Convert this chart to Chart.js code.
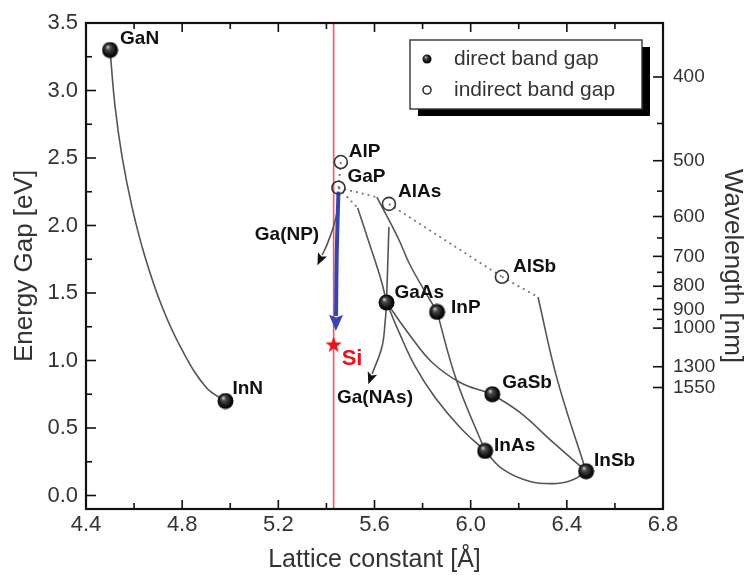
<!DOCTYPE html>
<html>
<head>
<meta charset="utf-8">
<script src="https://cdn.jsdelivr.net/npm/chart.js@4.4.0/dist/chart.umd.min.js"></script>
<style>
  html, body { margin: 0; padding: 0; background: #fff; }
</style>
</head>
<body>
<canvas id="chart" width="751" height="575"></canvas>
<script>
// Semicondutores: constante de rede [Å] x gap [eV]
const directNames = ['GaN', 'InN', 'GaAs', 'InP', 'GaSb', 'InAs', 'InSb'];
const directX = [4.50, 4.98, 5.65, 5.86, 6.09, 6.06, 6.48];
const directY = [3.30, 0.70, 1.43, 1.36, 0.75, 0.33, 0.18];

const indirectNames = ['AlP', 'GaP', 'AlAs', 'AlSb'];
const indirectX = [5.46, 5.45, 5.66, 6.13];
const indirectY = [2.47, 2.28, 2.16, 1.62];

const siName = 'Si';
const siX = [5.43];
const siY = [1.12];

// Curvas das ligas
const curveGaNInN = [[4.50, 3.30], [4.521, 2.88], [4.55, 2.51], [4.591, 2.14], [4.645, 1.77], [4.716, 1.40], [4.799, 1.08], [4.90, 0.80], [4.98, 0.70]];
const curveGaPGaAs = [[5.53, 2.13], [5.58, 1.86], [5.63, 1.58], [5.65, 1.43]];
const curveGaPInP = [[5.61, 2.21], [5.70, 1.90], [5.75, 1.70], [5.86, 1.36]];
const curveAlAsGaAs = [[5.66, 1.99], [5.65, 1.43]];
const curveAlSbInSb = [[6.28, 1.47], [6.36, 0.86], [6.48, 0.18]];
const curveGaAsGaSb = [[5.65, 1.43], [5.75, 1.18], [5.84, 0.985], [5.956, 0.837], [6.07, 0.763], [6.09, 0.75]];
const curveGaAsInAs = [[5.65, 1.43], [5.706, 1.193], [5.769, 0.956], [5.852, 0.726], [5.956, 0.504], [6.06, 0.33]];
const curveInPInAs = [[5.86, 1.36], [5.94, 0.86], [6.06, 0.33]];
const curveGaSbInSb = [[6.09, 0.75], [6.205, 0.615], [6.343, 0.393], [6.48, 0.18]];
const curveInAsInSb = [[6.06, 0.33], [6.135, 0.193], [6.247, 0.104], [6.359, 0.089], [6.43, 0.12], [6.48, 0.18]];
const arrowGaNP = [[5.448, 2.25], [5.444, 2.10], [5.428, 1.985], [5.403, 1.86], [5.382, 1.78]];
const arrowGaNAs = [[5.65, 1.43], [5.644, 1.28], [5.631, 1.10], [5.59, 0.90]];

// Trechos indiretos (pontilhados)
const dotAlPGaP = [[5.46, 2.47], [5.45, 2.28]];
const dotGaPGaAs = [[5.45, 2.28], [5.53, 2.13]];
const dotGaPInP = [[5.45, 2.28], [5.61, 2.21]];
const dotAlAsAlSb = [[5.66, 2.16], [6.13, 1.62]];
const dotAlSbInSb = [[6.13, 1.62], [6.28, 1.47]];

// Linha do Si e seta azul GaP -> Si
const siLine = [[5.43, -0.1], [5.43, 3.5]];
const blueArrow = [[5.45, 2.25], [5.443, 1.80], [5.44, 1.33]];

const freeLabels = ['Ga(NP)', 'Ga(NAs)'];
const freeLabelX = [5.236, 5.602];
const freeLabelY = [1.933, 0.726];

const legendLabels = ['direct band gap', 'indirect band gap'];

// Eixos
const xTicks = [4.4, 4.8, 5.2, 5.6, 6.0, 6.4, 6.8];
const xMinor = [4.6, 5.0, 5.4, 5.8, 6.2, 6.6];
const yTicks = [0, 0.5, 1.0, 1.5, 2.0, 2.5, 3.0, 3.5];
const yMinor = [0.25, 0.75, 1.25, 1.75, 2.25, 2.75, 3.25];
const wlTicks = [400, 500, 600, 700, 800, 900, 1000, 1300, 1550];
const wlMinor = [450, 550, 650, 750, 850, 950];
const HC = 1240; // eV*nm

// deslocamento dos rótulos em px (estilo)
const directLabelOffsets = [[10, -11], [7, -12], [8, -10], [14, -4], [10, -11], [9, -5], [8, -10]];
const indirectLabelOffsets = [[8, -10], [9, -11], [9, -12], [11, -10]];

const FONT = "'Liberation Sans', Arial, Helvetica, sans-serif";

function pts(arr) { return arr.map(p => ({ x: p[0], y: p[1] })); }

// Esfera preta (gap direto)
function makeSphere(d) {
    const c = document.createElement('canvas');
    c.width = d; c.height = d;
    const g = c.getContext('2d');
    const r = d / 2;
    const grad = g.createRadialGradient(r * 0.72, r * 0.62, r * 0.05, r, r, r);
    grad.addColorStop(0, '#c8c8c8');
    grad.addColorStop(0.25, '#4a4a4a');
    grad.addColorStop(0.7, '#111');
    grad.addColorStop(1, '#000');
    g.fillStyle = grad;
    g.beginPath();
    g.arc(r, r, r - 0.5, 0, Math.PI * 2);
    g.fill();
    return c;
}

// Estrela vermelha do Si
function makeStar(d, color) {
    const c = document.createElement('canvas');
    c.width = d; c.height = d;
    const g = c.getContext('2d');
    const r = d / 2, ri = r * 0.42;
    g.fillStyle = color;
    g.beginPath();
    for (let i = 0; i < 10; i++) {
        const a = -Math.PI / 2 + i * Math.PI / 5;
        const rr = i % 2 === 0 ? r : ri;
        g.lineTo(r + rr * Math.cos(a), r + rr * Math.sin(a) + 0.8);
    }
    g.closePath();
    g.fill();
    return c;
}

const sphere = makeSphere(17);
const sphereSmall = makeSphere(10);
const star = makeStar(17, '#e8141c');

function solid(data, extra) {
    return Object.assign({
        data: pts(data), showLine: true, borderColor: '#555', borderWidth: 1.6,
        tension: 0.4, pointRadius: 0, order: 2
    }, extra || {});
}
function dotted(data) {
    return {
        data: pts(data), showLine: true, borderColor: '#777', borderWidth: 1.8,
        borderDash: [2, 4], tension: 0, pointRadius: 0, order: 2
    };
}

const datasets = [
    {
        label: 'direct', data: directX.map((x, i) => ({ x, y: directY[i] })),
        pointStyle: sphere, pointRadius: 8, showLine: false, order: 0
    },
    {
        label: 'indirect', data: indirectX.map((x, i) => ({ x, y: indirectY[i] })),
        pointStyle: 'circle', pointRadius: 6.5, pointBorderWidth: 1.6,
        pointBorderColor: '#333', pointBackgroundColor: 'rgba(255,255,255,0)', showLine: false, order: 0
    },
    {
        label: 'Si', data: siX.map((x, i) => ({ x, y: siY[i] })),
        pointStyle: star, pointRadius: 8, showLine: false, order: 0
    },
    solid(curveGaNInN),
    solid(curveGaPGaAs),
    solid(curveGaPInP),
    solid(curveAlAsGaAs, { tension: 0 }),
    solid(curveAlSbInSb),
    solid(curveGaAsGaSb),
    solid(curveGaAsInAs),
    solid(curveInPInAs),
    solid(curveGaSbInSb),
    solid(curveInAsInSb),
    solid(arrowGaNP, { arrow: { len: 11, half: 5, color: '#111' } }),
    solid(arrowGaNAs, { arrow: { len: 11, half: 5, color: '#111' } }),
    dotted(dotAlPGaP),
    dotted(dotGaPGaAs),
    dotted(dotGaPInP),
    dotted(dotAlAsAlSb),
    dotted(dotAlSbInSb),
    solid(blueArrow, { borderColor: '#3a44b0', borderWidth: 4, tension: 0.3, order: 1,
        arrow: { len: 15, half: 7, color: '#3a44b0' } }),
    solid(siLine, { borderColor: '#f0585c', borderWidth: 1.6, tension: 0, order: 5 })
];

// Pontas de seta no fim das curvas marcadas
const arrowHeads = {
    id: 'arrowHeads',
    afterDatasetsDraw(chart) {
        const ctx = chart.ctx;
        chart.data.datasets.forEach((ds, i) => {
            if (!ds.arrow) return;
            const meta = chart.getDatasetMeta(i);
            const n = meta.data.length;
            const p = meta.data[n - 1], q = meta.data[n - 2];
            let bx = q.x, by = q.y;
            if (p.cp1x !== undefined && Math.hypot(p.x - p.cp1x, p.y - p.cp1y) > 1) { bx = p.cp1x; by = p.cp1y; }
            const a = Math.atan2(p.y - by, p.x - bx);
            const { len, half, color } = ds.arrow;
            ctx.save();
            ctx.translate(p.x, p.y);
            ctx.rotate(a);
            ctx.fillStyle = color;
            ctx.beginPath();
            ctx.moveTo(len, 0);
            ctx.lineTo(-1, -half);
            ctx.lineTo(1.5, 0);
            ctx.lineTo(-1, half);
            ctx.closePath();
            ctx.fill();
            ctx.restore();
        });
    }
};

// Rótulos dos materiais
const pointLabels = {
    id: 'pointLabels',
    afterDatasetsDraw(chart) {
        const { ctx, scales: { x, y } } = chart;
        ctx.save();
        ctx.font = 'bold 19px ' + FONT;
        ctx.fillStyle = '#111';
        ctx.textBaseline = 'middle';
        ctx.textAlign = 'left';
        directNames.forEach((name, i) => {
            const o = directLabelOffsets[i];
            ctx.fillText(name, x.getPixelForValue(directX[i]) + o[0], y.getPixelForValue(directY[i]) + o[1]);
        });
        indirectNames.forEach((name, i) => {
            const o = indirectLabelOffsets[i];
            ctx.fillText(name, x.getPixelForValue(indirectX[i]) + o[0], y.getPixelForValue(indirectY[i]) + o[1]);
        });
        ctx.textAlign = 'center';
        freeLabels.forEach((name, i) => {
            ctx.fillText(name, x.getPixelForValue(freeLabelX[i]), y.getPixelForValue(freeLabelY[i]));
        });
        ctx.textAlign = 'left';
        ctx.font = 'bold 22px ' + FONT;
        ctx.fillStyle = '#e8141c';
        ctx.fillText(siName, x.getPixelForValue(siX[0]) + 8, y.getPixelForValue(siY[0]) + 15);
        ctx.restore();
    }
};

// Moldura, ticks internos e legenda com sombra
const frameAndLegend = {
    id: 'frameAndLegend',
    afterDraw(chart) {
        const { ctx, chartArea: a, scales } = chart;
        ctx.save();
        ctx.strokeStyle = '#111';
        ctx.lineWidth = 1.6;
        const seg = (x1, y1, x2, y2) => { ctx.beginPath(); ctx.moveTo(x1, y1); ctx.lineTo(x2, y2); ctx.stroke(); };
        const xt = (v, l) => { const px = scales.x.getPixelForValue(v); seg(px, a.bottom, px, a.bottom - l); seg(px, a.top, px, a.top + l); };
        xTicks.forEach(v => xt(v, 9));
        xMinor.forEach(v => xt(v, 6));
        yTicks.forEach(v => { const py = scales.y.getPixelForValue(v); seg(a.left, py, a.left + 10, py); });
        yMinor.forEach(v => { const py = scales.y.getPixelForValue(v); seg(a.left, py, a.left + 6, py); });
        wlTicks.forEach(w => { const py = scales.y2.getPixelForValue(HC / w); seg(a.right, py, a.right - 10, py); });
        wlMinor.forEach(w => { const py = scales.y2.getPixelForValue(HC / w); seg(a.right, py, a.right - 6, py); });
        ctx.lineWidth = 2.2;
        ctx.strokeRect(a.left, a.top, a.right - a.left, a.bottom - a.top);

        // legenda
        const bx = a.right - 253, by = a.top + 17, bw = 232, bh = 69;
        ctx.fillStyle = '#000';
        ctx.fillRect(bx + 8, by + 7, bw, bh);
        ctx.fillStyle = '#fff';
        ctx.fillRect(bx, by, bw, bh);
        ctx.lineWidth = 1.4;
        ctx.strokeStyle = '#333';
        ctx.strokeRect(bx, by, bw, bh);
        ctx.drawImage(sphereSmall, bx + 17 - 5, by + 19 - 5);
        ctx.beginPath();
        ctx.lineWidth = 1.6;
        ctx.arc(bx + 17, by + 50, 4, 0, Math.PI * 2);
        ctx.stroke();
        ctx.font = '21px ' + FONT;
        ctx.fillStyle = '#333';
        ctx.textBaseline = 'middle';
        ctx.textAlign = 'left';
        ctx.fillText(legendLabels[0], bx + 44, by + 19);
        ctx.fillText(legendLabels[1], bx + 44, by + 50);
        ctx.restore();
    }
};

const setTicks = values => scale => { scale.ticks = values.map(v => ({ value: v })); };

new Chart(document.getElementById('chart'), {
    type: 'scatter',
    data: { datasets },
    options: {
        responsive: false,
        animation: false,
        devicePixelRatio: 1,
        layout: { padding: { top: 23, left: 0, right: 0, bottom: 0 } },
        plugins: { legend: { display: false }, tooltip: { enabled: false } },
        scales: {
            x: {
                type: 'linear', position: 'bottom', min: 4.4, max: 6.8,
                afterBuildTicks: setTicks(xTicks),
                afterFit: s => { s.height = 66; },
                grid: { display: false, drawTicks: false },
                border: { display: false },
                ticks: { color: '#333', padding: 3, font: { family: FONT, size: 22 }, callback: v => v.toFixed(1) },
                title: { display: true, text: 'Lattice constant [Å]', color: '#333', font: { family: FONT, size: 25 }, padding: { top: 0, bottom: 0 } }
            },
            y: {
                type: 'linear', position: 'left', min: -0.1, max: 3.5,
                afterBuildTicks: setTicks(yTicks),
                afterFit: s => { s.width = 86; },
                grid: { display: false, drawTicks: false },
                border: { display: false },
                ticks: { color: '#333', padding: 8, font: { family: FONT, size: 22 }, callback: v => v.toFixed(1) },
                title: { display: true, text: 'Energy Gap [eV]', color: '#333', font: { family: FONT, size: 26 }, padding: { top: 9, bottom: 0 } }
            },
            y2: {
                type: 'linear', position: 'right', min: -0.1, max: 3.5,
                afterBuildTicks: setTicks(wlTicks.map(w => HC / w)),
                afterFit: s => { s.width = 88; },
                grid: { display: false, drawTicks: false },
                border: { display: false },
                ticks: { color: '#333', padding: 10, autoSkip: false, font: { family: FONT, size: 19 }, callback: (v, i) => String(wlTicks[i]) },
                title: { display: true, text: 'Wavelength [nm]', color: '#333', font: { family: FONT, size: 26 }, padding: { top: 3, bottom: 0 } }
            }
        }
    },
    plugins: [arrowHeads, pointLabels, frameAndLegend]
});
</script>
</body>
</html>
